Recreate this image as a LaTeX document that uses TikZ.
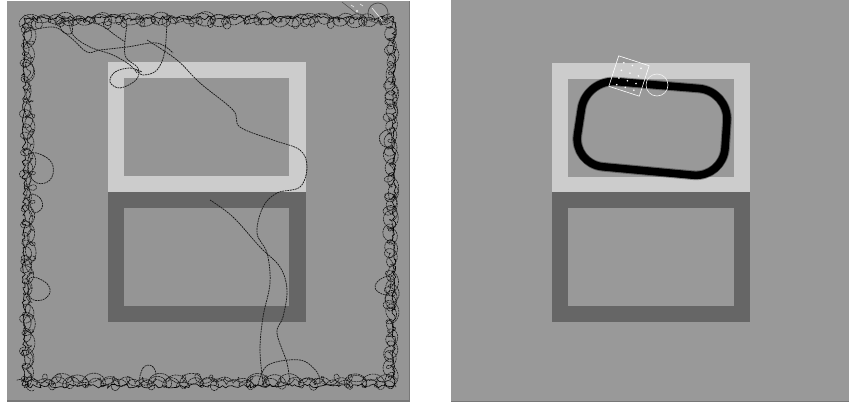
\documentclass[tikz,border=0pt]{standalone}
\usetikzlibrary{decorations.pathmorphing}
\definecolor{bgL}{HTML}{959595}
\definecolor{bgR}{HTML}{999999}
\definecolor{lightfr}{HTML}{CCCCCC}
\definecolor{darkfr}{HTML}{666666}
\definecolor{edgeL}{HTML}{787878}
\tikzset{
  track/.style={draw=black!90, line width=0.75pt, dash pattern=on 1.8pt off 0.8pt},
  wall/.style={draw=black!90, line width=0.6pt, dash pattern=on 2pt off 0.7pt},
  wallr/.style={draw=black, line width=0.6pt, decorate, decoration={random steps, segment length=2.5pt, amplitude=2pt}},
  robotw/.style={draw=white, line width=0.6pt},
  declare function={ra(\t)=4.2+2.2*sin(7.3*\t)+1.6*sin(17.9*\t+40);
                    rb(\t)=3.4+1.8*sin(5.1*\t+70)+1.4*sin(23.7*\t);
                    rc(\t)=5+2.5*sin(3.7*\t+10)+1.5*sin(11.3*\t);},
}
\begin{document}
\begin{tikzpicture}[x=1pt,y=-1pt]
\useasboundingbox (0,0) rectangle (849,402);
\fill[white] (0,0) rectangle (849,402);
% ---------- left panel ----------
\fill[bgL] (7,1) rectangle (410,401);
\draw[edgeL, line width=1.2pt] (409.5,1) -- (409.5,401) -- (7,401);
\fill[lightfr] (108,62) rectangle (306,192);
\fill[bgL] (124,78) rectangle (289,176);
\fill[darkfr] (108,192) rectangle (306,322);
\fill[bgL] (124,208) rectangle (289,306);
% wall-following trace (looping)
\draw[wall] plot[domain=24:392, samples=450] ({\x+ra(\x)*cos(31*\x)}, {19+ra(\x)*sin(31*\x)});
\draw[wall] plot[domain=26:394, samples=450] ({\x+rb(\x)*cos(-24*\x)}, {22+rb(\x)*sin(-24*\x)});
\draw[wall] plot[domain=22:390, samples=450] ({\x+rc(\x)*cos(21*\x)}, {21+rc(\x)*sin(21*\x)});
\draw[wall] plot[domain=20:386, samples=450] ({\x+ra(\x+50)*cos(29*\x)}, {383+ra(\x+50)*sin(29*\x)});
\draw[wall] plot[domain=22:390, samples=450] ({\x+rb(\x+20)*cos(-26*\x)}, {380+rb(\x+20)*sin(-26*\x)});
\draw[wall] plot[domain=24:392, samples=450] ({\x+rc(\x+40)*cos(22*\x)}, {381+rc(\x+40)*sin(22*\x)});
\draw[wall] plot[domain=20:386, samples=450] ({27+ra(\x+90)*cos(30*\x)}, {\x+ra(\x+90)*sin(30*\x)});
\draw[wall] plot[domain=22:388, samples=450] ({30+rb(\x+30)*cos(-25*\x)}, {\x+rb(\x+30)*sin(-25*\x)});
\draw[wall] plot[domain=24:390, samples=450] ({28+rc(\x+70)*cos(20*\x)}, {\x+rc(\x+70)*sin(20*\x)});
\draw[wall] plot[domain=20:386, samples=450] ({392+ra(\x+10)*cos(32*\x)}, {\x+ra(\x+10)*sin(32*\x)});
\draw[wall] plot[domain=22:388, samples=450] ({389+rb(\x+60)*cos(-27*\x)}, {\x+rb(\x+60)*sin(-27*\x)});
\draw[wall] plot[domain=24:390, samples=450] ({391+rc(\x+15)*cos(23*\x)}, {\x+rc(\x+15)*sin(23*\x)});
\draw[wallr] (24,18) -- (394,18) -- (394,386) -- (24,386) -- cycle;
% bigger loops off the wall
\draw[track] plot[smooth cycle, tension=0.7] coordinates {(30,154) (44,156) (53,166) (50,180) (37,183) (29,172)};
\draw[track] plot[smooth cycle, tension=0.7] coordinates {(30,278) (45,282) (50,292) (42,300) (30,297)};
\draw[track] plot[smooth cycle, tension=0.7] coordinates {(30,195) (40,198) (42,208) (33,212)};
\draw[track] plot[smooth cycle, tension=0.7] coordinates {(390,277) (378,281) (376,290) (388,294)};
\draw[track] plot[smooth cycle, tension=0.7] coordinates {(390,130) (380,135) (382,145) (391,146)};
\draw[track] plot[smooth cycle, tension=0.7] coordinates {(140,383) (143,368) (152,366) (156,376) (150,384)};
\draw[track] plot[smooth cycle, tension=0.7] coordinates {(60,22) (63,32) (72,33) (70,22)};
% wandering traces
\draw[track] plot[smooth, tension=0.6] coordinates {(147,40) (177,60) (200,83) (233,110) (240,127) (273,140) (300,150) (307,167) (300,187) (277,193) (263,207) (257,233) (267,253) (270,283) (263,317) (260,350) (263,383)};
\draw[track] plot[smooth, tension=0.6] coordinates {(210,200) (233,217) (260,247) (280,267) (287,290) (283,317) (277,333) (287,363) (290,385)};
\draw[track] plot[smooth, tension=0.6] coordinates {(258,385) (268,365) (300,360) (317,372) (320,384)};
\draw[track] plot[smooth, tension=0.6] coordinates {(25,32) (53,27) (70,37) (87,52) (100,50) (127,47) (157,43) (173,53)};
\draw[track] plot[smooth, tension=0.6] coordinates {(68,17) (73,35) (90,47) (113,55) (130,65) (137,73)};
\draw[track] plot[smooth, tension=0.6] coordinates {(127,25) (125,55) (138,68) (136,80) (120,88) (110,82) (115,72) (130,68) (142,72)};
\draw[track] plot[smooth, tension=0.6] coordinates {(167,13) (165,50) (157,70) (143,75) (137,70)};
\draw[track] plot[smooth, tension=0.6] coordinates {(55,25) (75,20) (100,25) (115,35) (125,42)};
% left robot
\draw[black!70, line width=0.7pt] (378,13) circle (10pt);
\draw[black!70, line width=0.5pt] (342,2) -- (356,13) -- (372,22);
\draw[white!85!gray, line width=0.6pt] (351,5) -- (354,7);
\draw[white!85!gray, line width=0.6pt] (360,4) -- (363,6);
\draw[white!85!gray, line width=0.6pt] (372,8) -- (382,20);
\fill[white!85!gray] (357,11) circle (1.2pt);
% ---------- right panel ----------
\fill[bgR] (451,0) rectangle (849,401);
\draw[edgeL, line width=0.8pt] (451,401) -- (849,401);
\fill[lightfr] (552,63) rectangle (750,192);
\fill[bgR] (568,79) rectangle (734,177);
\fill[darkfr] (552,192) rectangle (750,322);
\fill[bgR] (568,208) rectangle (734,306);
% learned trajectory
\foreach \dx/\dy in {-1.3/0, 1.3/0, 0/-1.3, 0/1.3}
  \draw[black, line width=7pt, opacity=0.35, rounded corners=30pt, shift={(\dx,\dy)}] (656,85) -- (729,91) -- (723,178) -- (573,164) -- (586,79) -- cycle;
\draw[black, line width=7.5pt, rounded corners=30pt] (656,85) -- (729,91) -- (723,178) -- (573,164) -- (586,79) -- cycle;
% right robot
\begin{scope}[shift={(629,76)}, rotate=-18]
  \draw[robotw] (-16,-16) rectangle (16,16);
  \foreach \i in {-9,0,9} \foreach \j in {-11,-3,5,12} \fill[white] (\i,\j) circle (0.9pt);
\end{scope}
\draw[robotw, draw=white!90!gray] (657,85) circle (11pt);
\end{tikzpicture}
\end{document}
